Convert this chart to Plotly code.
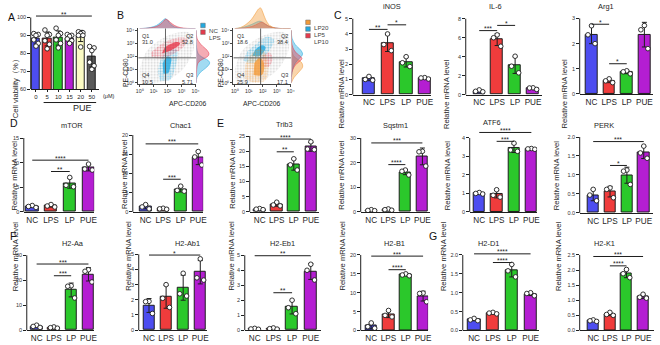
import numpy as np
import plotly.graph_objects as go

W, H = 660, 345
FONT = "Arial, 'Liberation Sans', Helvetica, sans-serif"
INK = "#1e1e1e"
SOFT = "#333333"

# ---------------- groups ----------------
groups = ["NC", "LPS", "LP", "PUE"]
group_colors = ["#4d4df0", "#f03c3c", "#2bc82b", "#b41ed2"]

# ---------------- A: cell viability (%) ----------------
doses = ["0", "5", "10", "15", "20", "50"]
dose_colors = ["#4d4df0", "#f03c3c", "#2bc82b", "#b41ed2", "#fbfbc4", "#595959"]
viability = [
    [91.0, 90.5, 90.0, 87.5, 85.5, 84.0],
    [93.0, 90.5, 90.0, 87.0, 85.0, 82.5],
    [94.0, 91.0, 90.0, 87.5, 85.5, 83.0],
    [90.5, 90.0, 89.5, 88.0, 87.0, 85.5],
    [92.0, 91.5, 91.0, 90.0, 90.0, 83.5],
    [83.8, 83.0, 81.5, 75.0, 73.0, 71.0],
]
viability_sig = [(0, 5, 100.8, "**")]

# ---------------- qPCR, relative mRNA level (3 replicates / group) ----------------
inos = [[1.2, 1.0, 0.95], [4.0, 3.3, 2.9], [2.5, 2.1, 1.85], [1.12, 1.1, 1.03]]
il6 = [[0.5, 0.35, 0.3], [6.3, 6.0, 5.1], [4.05, 3.0, 2.3], [0.72, 0.7, 0.55]]
arg1 = [[2.71, 2.35, 2.0], [0.6, 0.52, 0.45], [0.92, 0.88, 0.8], [2.72, 2.55, 1.8]]
mtor = [[1.3, 1.1, 0.9], [1.5, 1.2, 1.0], [7.0, 5.4, 5.1], [9.7, 8.7, 8.5]]
chac1 = [[1.9, 1.3, 0.8], [0.95, 0.8, 0.7], [6.7, 5.6, 5.4], [15.7, 14.3, 12.2]]
trib3 = [[1.1, 0.9, 0.75], [3.2, 2.3, 2.0], [17.5, 15.5, 13.8], [23.1, 20.7, 20.5]]
sqstm1 = [[0.9, 0.6, 0.5], [1.2, 0.9, 0.7], [17.0, 16.5, 15.0], [24.6, 24.4, 18.6]]
atf6 = [[1.05, 1.0, 0.97], [1.2, 0.9, 0.8], [3.72, 3.35, 3.28], [3.43, 3.41, 3.39]]
perk = [[0.62, 0.47, 0.32], [0.66, 0.62, 0.4], [1.13, 1.1, 0.75], [1.76, 1.58, 1.44]]
h2aa = [[2.0, 1.5, 1.1], [1.3, 1.0, 0.8], [17.8, 17.6, 12.9], [24.2, 23.6, 19.3]]
h2ab1 = [[1.9, 1.88, 1.1], [3.0, 2.1, 1.5], [3.75, 2.4, 2.25], [4.7, 3.45, 3.3]]
h2eb1 = [[0.12, 0.08, 0.06], [0.15, 0.1, 0.07], [2.0, 1.5, 1.1], [4.4, 4.0, 3.35]]
h2b1 = [[2.0, 1.0, 0.6], [5.3, 4.0, 3.6], [15.0, 14.7, 14.5], [9.9, 9.8, 7.6]]
h2d1 = [[0.32, 0.28, 0.26], [0.48, 0.46, 0.44], [1.75, 1.58, 1.42], [1.0, 0.98, 0.92]]
h2k1 = [[0.35, 0.32, 0.3], [0.6, 0.53, 0.5], [2.02, 1.88, 1.75], [1.2, 1.1, 1.07]]

# significance brackets: (group a, group b, level, stars)
inos_sig = [(0, 1, 4.3, "**"), (1, 2, 4.6, "*")]
il6_sig = [(0, 1, 6.75, "***"), (1, 2, 7.3, "*")]
arg1_sig = [(0, 1, 2.77, "*"), (1, 2, 1.2, "*")]
mtor_sig = [(0, 3, 10.5, "****"), (1, 2, 8.2, "**")]
chac1_sig = [(0, 3, 17.7, "***"), (1, 2, 8.5, "***")]
trib3_sig = [(0, 3, 24.0, "****"), (1, 2, 19.8, "**")]
sqstm1_sig = [(0, 3, 28.0, "***"), (1, 2, 19.2, "****")]
atf6_sig = [(0, 3, 4.3, "****"), (1, 2, 3.82, "***")]
perk_sig = [(0, 3, 1.88, "***"), (1, 2, 1.25, "*")]
h2aa_sig = [(0, 3, 26.5, "***"), (1, 2, 21.8, "***")]
h2ab1_sig = [(0, 3, 4.95, "*")]
h2eb1_sig = [(0, 3, 4.97, "**"), (1, 2, 2.5, "**")]
h2b1_sig = [(0, 3, 19.7, "***"), (1, 2, 16.1, "****")]
h2d1_sig = [(0, 3, 2.03, "****"), (1, 2, 1.8, "****")]
h2k1_sig = [(0, 3, 2.45, "***"), (1, 2, 2.14, "****")]

# ---------------- B: flow cytometry (log10 units) ----------------
flow_ticks = [0, 1, 2, 3, 4]
flow_tick_text = ["10⁰", "10¹", "10²", "10³", "10⁴"]
quad_left = {"Q1": "31.0", "Q2": "52.8", "Q3": "5.71", "Q4": "10.5"}
quad_right = {"Q1": "18.6", "Q2": "38.4", "Q3": "17.1", "Q4": "25.9"}
gate_x, gate_y = 1.85, 1.9

cloud_x = [0.1, 1.0, 2.2, 3.3, 3.9, 3.6, 2.6, 1.5, 0.5, 0.0]
cloud_y = [0.0, -0.05, 0.3, 1.3, 2.8, 3.8, 3.8, 3.3, 2.4, 1.0]

nc_outer = ([1.45, 2.15, 2.45, 2.65, 2.7, 2.35, 1.85, 1.45, 1.3], [0.15, 0.2, 0.8, 1.6, 2.45, 2.65, 2.3, 1.6, 0.8])
nc_inner = ([1.7, 2.05, 2.2, 2.25, 1.95, 1.65], [0.7, 0.75, 1.3, 1.9, 2.0, 1.45])
lps_outer = ([0.85, 1.6, 2.4, 3.2, 3.4, 2.8, 2.0, 1.3, 0.8], [1.95, 1.85, 2.2, 2.8, 3.35, 3.45, 3.2, 2.75, 2.3])
lps_inner = ([1.6, 2.3, 2.9, 2.6, 1.8], [2.25, 2.5, 3.0, 3.1, 2.7])

lp10_outer = ([1.9, 2.4, 2.7, 2.5, 2.0], [1.3, 1.2, 1.8, 2.3, 2.1])
lp5_outer = ([0.6, 1.2, 1.9, 2.5, 2.8, 2.3, 1.6, 0.9], [1.7, 1.5, 1.8, 2.5, 3.3, 3.5, 3.0, 2.4])
lp5_inner = ([1.25, 1.8, 2.2, 1.95, 1.45], [2.05, 2.05, 2.7, 2.85, 2.5])
lp20_outer = ([0.7, 1.5, 2.2, 2.4, 2.3, 1.9, 1.3, 0.75], [0.3, 0.0, 0.2, 1.0, 1.9, 2.6, 2.3, 1.4])
lp20_inner = ([1.35, 1.95, 2.1, 1.8, 1.4], [0.6, 0.6, 1.4, 1.9, 1.5])

hist_grid = [0, 0.4, 0.8, 1.2, 1.5, 1.7, 1.85, 2.0, 2.2, 2.5, 2.9, 3.4, 4.0]
nc_top = [0, 0.02, 0.06, 0.15, 0.3, 0.42, 0.48, 0.4, 0.22, 0.08, 0.02, 0.0, 0]
lps_top = [0, 0.01, 0.04, 0.1, 0.22, 0.35, 0.45, 0.42, 0.3, 0.15, 0.05, 0.01, 0]
nc_side = [0, 0.05, 0.3, 0.75, 0.95, 0.85, 0.6, 0.35, 0.15, 0.05, 0.01, 0, 0]
lps_side = [0, 0, 0.02, 0.05, 0.12, 0.3, 0.55, 0.8, 0.9, 0.75, 0.35, 0.05, 0]
lp20_top = [0, 0.05, 0.2, 0.45, 0.75, 0.95, 1.0, 0.8, 0.45, 0.15, 0.03, 0, 0]
lp5_top = [0, 0.03, 0.1, 0.2, 0.3, 0.35, 0.35, 0.3, 0.2, 0.1, 0.03, 0, 0]
lp10_top = [0, 0.01, 0.04, 0.1, 0.18, 0.25, 0.3, 0.3, 0.22, 0.1, 0.03, 0, 0]
lp20_side = [0, 0.2, 0.55, 0.85, 0.8, 0.6, 0.4, 0.2, 0.1, 0.03, 0, 0, 0]
lp5_side = [0, 0, 0.05, 0.15, 0.3, 0.45, 0.6, 0.75, 0.85, 0.7, 0.3, 0.05, 0]
lp10_side = [0, 0, 0.05, 0.2, 0.45, 0.7, 0.8, 0.7, 0.45, 0.2, 0.05, 0, 0]

CYAN, RED, ORANGE = "#22a9e0", "#e63a4c", "#f29a38"


def rgba(hex_color, a):
    h = hex_color.lstrip("#")
    r, g, b = int(h[0:2], 16), int(h[2:4], 16), int(h[4:6], 16)
    return f"rgba({r},{g},{b},{a})"


# ---------------- layout of the panels (pixels) ----------------
bar_boxes = {
    "A": dict(x=(29, 98), y=(88.3, 15.7), scale=(60, 100, 10), xr=(-0.47, 5.65), ytx=7, ty=None, bw=0.75),
    "iNOS": dict(x=(354, 433), y=(94, 17), scale=(0, 5, 1), xr=(-0.87, 3.34), ytx=343, ty=4.5),
    "IL-6": dict(x=(468, 545), y=(94, 17), scale=(0, 8, 2), xr=(-0.75, 3.5), ytx=455, ty=4.5),
    "Arg1": dict(x=(583, 657), y=(93.3, 16.7), scale=(0, 3, 1), xr=(-0.67, 3.49), ytx=574, ty=4.5),
    "mTOR": dict(x=(22, 93), y=(213, 138), scale=(0, 15, 5), xr=(-0.45, 3.3), ytx=7, ty=125),
    "Chac1": dict(x=(132, 203), y=(213, 135), scale=(0, 20, 5), xr=(-0.73, 3.28), ytx=117, ty=125),
    "Trib3": dict(x=(250, 320), y=(213, 136), scale=(0, 25, 5), xr=(-0.58, 3.48), ytx=233, ty=124),
    "Sqstm1": dict(x=(362, 432), y=(213, 138), scale=(0, 30, 10), xr=(-0.62, 3.45), ytx=343, ty=125),
    "ATF6": dict(x=(472, 540), y=(213, 138), scale=(0, 4, 1), xr=(-0.55, 3.33), ytx=457, ty=122.5),
    "PERK": dict(x=(583, 657), y=(214, 137), scale=(0, 2, 0.5), xr=(-0.8, 3.55), ytx=567, ty=125),
    "H2-Aa": dict(x=(25, 93), y=(333, 257), scale=(0, 30, 10), xr=(-0.57, 3.33), ytx=7, ty=245),
    "H2-Ab1": dict(x=(138, 207), y=(333, 256), scale=(0, 5, 1), xr=(-0.6, 3.4), ytx=121, ty=245),
    "H2-Eb1": dict(x=(245, 322), y=(333, 257), scale=(0, 5, 1), xr=(-0.53, 3.55), ytx=232, ty=245),
    "H2-B1": dict(x=(362, 430), y=(333.3, 256.7), scale=(0, 20, 5), xr=(-0.61, 3.29), ytx=344, ty=245),
    "H2-D1": dict(x=(465, 542), y=(333.3, 256.7), scale=(0, 2, 0.5), xr=(-0.6, 3.45), ytx=452, ty=245),
    "H2-K1": dict(x=(583, 658), y=(333.3, 256.7), scale=(0, 2.5, 0.5), xr=(-0.82, 3.66), ytx=568, ty=245),
}

fig = go.Figure()
axes = {}
shapes = []
annos = []
counter = [0]


def px_x(px):
    return px / W


def px_y(py):
    return 1 - py / H


def add_axes(xdom, ydom, xa=None, ya=None):
    counter[0] += 1
    s = "" if counter[0] == 1 else str(counter[0])
    base = dict(showgrid=False, zeroline=False, fixedrange=True)
    axes["xaxis" + s] = dict(base, domain=xdom, anchor="y" + s, **(xa or {}))
    axes["yaxis" + s] = dict(base, domain=ydom, anchor="x" + s, **(ya or {}))
    return "x" + s, "y" + s


def text(x, y, s, size, color=INK, ref=("paper", "paper"), **kw):
    annos.append(dict(x=x, y=y, xref=ref[0], yref=ref[1], text=s, showarrow=False,
                      font=dict(family=FONT, size=size, color=color), **kw))


def bar_panel(name, pts, sigs, cats=groups, colors=group_colors, title=True,
              ytitle="Relative mRNA level", cat_size=8.2, xticks=""):
    box = bar_boxes[name]
    (xl, xrp), (y0, yt) = box["x"], box["y"]
    lo, top, step = box["scale"]
    ext = max([top] + [s[2] for s in sigs]) + 0.02 * (top - lo)
    ppu = (y0 - yt) / (top - lo)
    y_ext = y0 - (ext - lo) * ppu
    tickv = list(np.arange(lo, top + step / 2, step))
    tickt = [f"{v:.1f}" if step < 1 else f"{v:g}" for v in tickv]
    n = len(cats)
    xa, ya = add_axes(
        [px_x(xl), px_x(xrp)], [px_y(y0), px_y(y_ext)],
        xa=dict(range=list(box["xr"]), showline=True, linecolor=INK, linewidth=1,
                tickvals=list(range(n)), ticktext=cats, ticks=xticks, ticklen=2,
                tickcolor=INK, tickfont=dict(family=FONT, size=cat_size, color=INK)),
        ya=dict(range=[lo, ext], showline=False, ticks="outside", ticklen=2.5, tickwidth=1,
                tickcolor=INK, tickvals=tickv, ticktext=tickt,
                tickfont=dict(family=FONT, size=5.5, color=SOFT)),
    )
    # y axis drawn only up to the last tick
    shapes.append(dict(type="line", xref="paper", yref="paper", x0=px_x(xl), x1=px_x(xl),
                       y0=px_y(y0), y1=px_y(yt), line=dict(color=INK, width=1)))
    means = [float(np.mean(p)) for p in pts]
    sds = [float(np.std(p, ddof=1)) for p in pts]
    fig.add_trace(go.Bar(
        x=list(range(n)), y=means, width=box.get("bw", 0.66), xaxis=xa, yaxis=ya,
        marker=dict(color=colors, line=dict(color=INK, width=1)),
        error_y=dict(type="data", array=sds, color=INK, thickness=1, width=2.5),
        showlegend=False, hoverinfo="skip"))
    k = len(pts[0])
    offs = [0.0, -0.2, 0.2] if k == 3 else [-0.2, 0.2, 0.0, -0.2, 0.2, 0.0]
    xs, ys = [], []
    for i, p in enumerate(pts):
        for j, v in enumerate(p):
            xs.append(i + offs[j])
            ys.append(v)
    fig.add_trace(go.Scatter(
        x=xs, y=ys, mode="markers", xaxis=xa, yaxis=ya, showlegend=False, hoverinfo="skip",
        marker=dict(symbol="circle", size=4.6, color="white", line=dict(color=INK, width=0.9))))
    for a, b, lvl, stars in sigs:
        shapes.append(dict(type="line", xref=xa, yref=ya, x0=a, x1=b, y0=lvl, y1=lvl,
                           line=dict(color=INK, width=1)))
        text((a + b) / 2, lvl, stars, 6.8, ref=(xa, ya), yanchor="bottom", yshift=-3.5)
    if title:
        text(px_x((xl + xrp) / 2), px_y(box["ty"]), name, 7.4, yanchor="middle")
    text(px_x(box["ytx"]), px_y((y0 + yt) / 2), ytitle, 7.6, textangle=-90)
    return xa, ya


# ---------------- A ----------------
bar_panel("A", viability, viability_sig, cats=doses, colors=dose_colors, title=False,
          ytitle="Cell viability（%）", cat_size=6, xticks="outside")
text(px_x(99.5), px_y(95.5), "(μM)", 5.5, xanchor="left", yanchor="middle")
shapes.append(dict(type="line", xref="paper", yref="paper", x0=px_x(42), x1=px_x(95),
                   y0=px_y(102), y1=px_y(102), line=dict(color=INK, width=1)))
text(px_x(70), px_y(108), "PUE", 9, yanchor="middle")


# ---------------- B ----------------
def blob(xa, ya, poly, fill, pattern=None):
    fig.add_trace(go.Scatter(x=poly[0], y=poly[1], fill="toself", mode="lines",
                             line=dict(width=0, shape="spline"), fillcolor=fill,
                             fillpattern=pattern, xaxis=xa, yaxis=ya,
                             showlegend=False, hoverinfo="skip"))


def speckle(color, size=2.6, solidity=0.45):
    return dict(shape=".", fgcolor=color, bgcolor="rgba(0,0,0,0)", size=size,
                solidity=solidity, fillmode="overlay")


def flow_panel(x0, x1, side_x1, populations, top_hists, side_hists, quads):
    xr, yr = [-0.1, 4.05], [-0.1, 4.15]
    ax_style = dict(showline=True, linecolor="#444", linewidth=1, ticks="outside", ticklen=2,
                    tickcolor="#444", tickvals=flow_ticks, ticktext=flow_tick_text,
                    tickfont=dict(family=FONT, size=5.2, color=SOFT))
    xa, ya = add_axes([px_x(x0), px_x(x1)], [px_y(83.3), px_y(26.7)],
                      xa=dict(range=xr, **ax_style), ya=dict(range=yr, **ax_style))
    blob(xa, ya, (cloud_x, cloud_y), "rgba(210,210,210,0.18)", speckle("#a0a0a0", 3.0, 0.3))
    for poly, color, inner in populations:
        if inner:
            blob(xa, ya, poly, rgba(color, 0.8))
        else:
            blob(xa, ya, poly, rgba(color, 0.22), speckle(color))
    for kind, v in (("v", gate_x), ("h", gate_y)):
        if kind == "v":
            shapes.append(dict(type="line", xref=xa, yref=ya, x0=v, x1=v, y0=yr[0], y1=yr[1],
                               line=dict(color="#555", width=0.9)))
        else:
            shapes.append(dict(type="line", xref=xa, yref=ya, x0=xr[0], x1=xr[1], y0=v, y1=v,
                               line=dict(color="#555", width=0.9)))
    qpos = {"Q1": (0.05, 3.95, "left"), "Q2": (3.95, 3.95, "right"),
            "Q4": (0.05, 0.95, "left"), "Q3": (3.95, 0.95, "right")}
    for q, val in quads.items():
        qx, qy, al = qpos[q]
        text(qx, qy, q, 5.6, color=SOFT, ref=(xa, ya), xanchor=al, yanchor="top")
        text(qx, qy, val, 5.6, color=SOFT, ref=(xa, ya), xanchor=al, yanchor="top", yshift=-6.5)
    # top marginal histograms
    ta, tb = add_axes([px_x(x0), px_x(x1)], [px_y(27), px_y(5)],
                      xa=dict(range=xr, visible=False), ya=dict(range=[0, 1.05], visible=False))
    for vals, color in top_hists:
        fig.add_trace(go.Scatter(x=hist_grid, y=vals, fill="tozeroy", mode="lines",
                                 line=dict(width=0.6, color=rgba(color, 0.9), shape="spline"),
                                 fillcolor=rgba(color, 0.42), xaxis=ta, yaxis=tb,
                                 showlegend=False, hoverinfo="skip"))
    # side marginal histograms
    sa, sb = add_axes([px_x(x1), px_x(side_x1)], [px_y(83.3), px_y(26.7)],
                      xa=dict(range=[0, 1.05], visible=False), ya=dict(range=yr, visible=False))
    for vals, color in side_hists:
        fig.add_trace(go.Scatter(x=vals, y=hist_grid, fill="tozerox", mode="lines",
                                 line=dict(width=0.6, color=rgba(color, 0.9), shape="spline"),
                                 fillcolor=rgba(color, 0.42), xaxis=sa, yaxis=sb,
                                 showlegend=False, hoverinfo="skip"))
    text(px_x(x0 - 18.5), px_y(55), "PE-CD80", 6.8, textangle=-90)
    text(px_x((x0 + x1) / 2), px_y(97), "APC-CD206", 6.8)


flow_panel(137.5, 196, 211,
           [(nc_outer, CYAN, False), (nc_inner, CYAN, True), (lps_outer, RED, False), (lps_inner, RED, True)],
           [(nc_top, CYAN), (lps_top, RED)],
           [(nc_side, CYAN), (lps_side, RED)], quad_left)
flow_panel(233.5, 292, 306,
           [(lp10_outer, RED, False), (lp5_outer, CYAN, False), (lp5_inner, CYAN, True),
            (lp20_outer, ORANGE, False), (lp20_inner, ORANGE, True)],
           [(lp5_top, CYAN), (lp10_top, RED), (lp20_top, ORANGE)],
           [(lp20_side, ORANGE), (lp5_side, CYAN), (lp10_side, RED)], quad_right)

# flow legends
for names, colors, lx, ly in ((["NC", "LPS"], [CYAN, RED], 200.5, 21.5),
                              (["LP20", "LP5", "LP10"], [ORANGE, CYAN, RED], 306.5, 18.3)):
    for i, (nm, c) in enumerate(zip(names, colors)):
        y_top = ly + i * 6.8
        shapes.append(dict(type="rect", xref="paper", yref="paper", x0=px_x(lx), x1=px_x(lx + 4.6),
                           y0=px_y(y_top + 4.6), y1=px_y(y_top), fillcolor=c,
                           line=dict(color="#666", width=0.5)))
        text(px_x(lx + 6.2), px_y(y_top + 2.3), nm, 6.2, color="#444", xanchor="left")

# ---------------- C-G ----------------
bar_panel("iNOS", inos, inos_sig)
bar_panel("IL-6", il6, il6_sig)
bar_panel("Arg1", arg1, arg1_sig)
bar_panel("mTOR", mtor, mtor_sig)
bar_panel("Chac1", chac1, chac1_sig)
bar_panel("Trib3", trib3, trib3_sig)
bar_panel("Sqstm1", sqstm1, sqstm1_sig)
bar_panel("ATF6", atf6, atf6_sig)
bar_panel("PERK", perk, perk_sig)
bar_panel("H2-Aa", h2aa, h2aa_sig)
bar_panel("H2-Ab1", h2ab1, h2ab1_sig)
bar_panel("H2-Eb1", h2eb1, h2eb1_sig)
bar_panel("H2-B1", h2b1, h2b1_sig)
bar_panel("H2-D1", h2d1, h2d1_sig)
bar_panel("H2-K1", h2k1, h2k1_sig)

# panel letters
for letter, lx, ly in (("A", 4, 7), ("B", 114, 5), ("C", 339.5, 5), ("D", 6, 123),
                       ("E", 220.5, 122.5), ("F", 6, 245.5), ("G", 441.5, 245.5)):
    text(px_x(lx), px_y(ly), letter, 10.5, color="#111")

fig.update_layout(
    width=W, height=H, margin=dict(l=0, r=0, t=0, b=0),
    paper_bgcolor="white", plot_bgcolor="rgba(0,0,0,0)",
    font=dict(family=FONT, color=INK), showlegend=False, bargap=0,
    shapes=shapes, annotations=annos, **axes,
)
fig.write_html("out.html")
